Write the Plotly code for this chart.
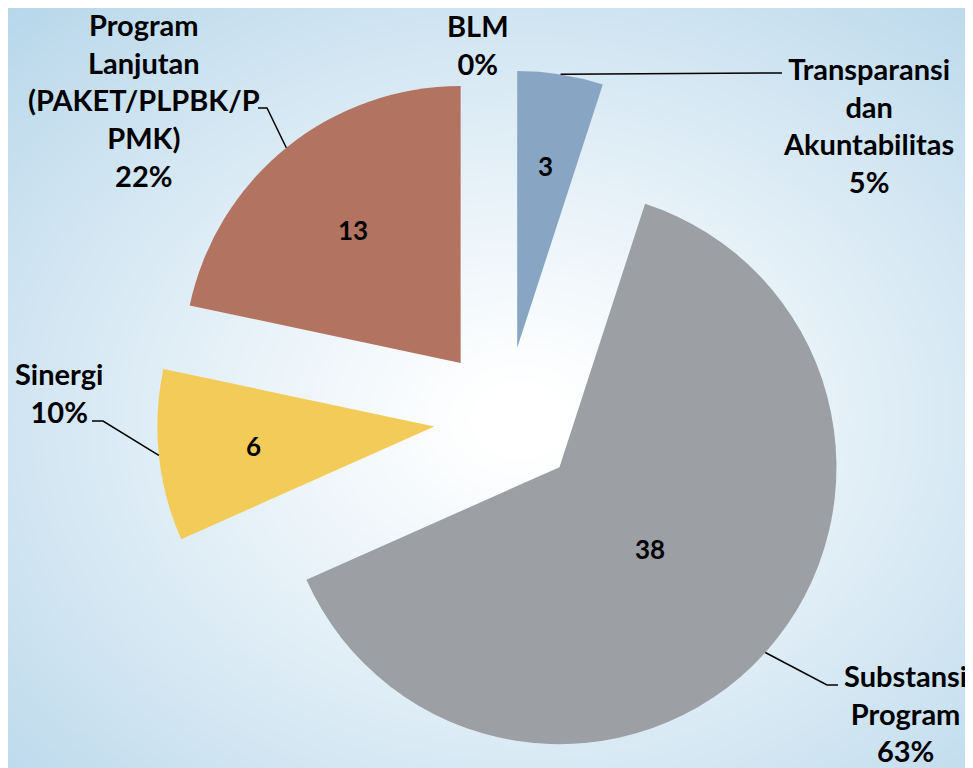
import math
import zlib
import struct
import base64
import numpy as np
import plotly.graph_objects as go

# ---------------- data ----------------
categories = ["BLM", "Transparansi dan Akuntabilitas", "Substansi Program",
              "Sinergi", "Program Lanjutan (PAKET/PLPBK/PPMK)"]
values = [0, 3, 38, 6, 13]
label_texts = ["BLM", "Transparansi<br>dan<br>Akuntabilitas", "Substansi<br>Program",
               "Sinergi", "Program<br>Lanjutan<br>(PAKET/PLPBK/P<br>PMK)"]

# ---------------- style / layout ----------------
slice_colors = ["#4F81BD", "#88A6C4", "#9C9FA4", "#F3CB58", "#B27460"]
OFF = 8                     # page body margin
W, H = 965, 760
PULL = 0.26
DOM_X = [0.032, 1.0]
DOM_Y = [0.0, 698 / 760]
FONT = "Lato"

# label block centres and leader-line elbows (screen pixels)
label_pos = [(478, 44), (868, 125), (905, 713), (59, 392), (144, 100)]
leader_pts = [None,
              [(775, 73), (782, 73)],
              [(827, 685), (838, 685)],
              [(103, 421), (92, 421)],
              [(267, 108), (258, 108)]]

# geometry as computed by plotly.js for the pie (screen pixels)
box_w = W * (DOM_X[1] - DOM_X[0])
box_h = H * (DOM_Y[1] - DOM_Y[0])
R = min(box_w, box_h) / 2 / (1 + PULL)
CX = OFF + W * (DOM_X[0] + DOM_X[1]) / 2
CY = OFF + H * (1 - DOM_Y[0]) - box_h / 2


def px2paper(x, y):
    return (x - OFF) / W, 1 - (y - OFF) / H


total = sum(values)
annotations = []
shapes = []
cum = 0.0
for i, v in enumerate(values):
    a0 = cum / total * 2 * math.pi
    cum += v
    a1 = cum / total * 2 * math.pi
    mid = (a0 + a1) / 2
    sx, sy = math.sin(mid), -math.cos(mid)
    apx, apy = CX + PULL * R * sx, CY + PULL * R * sy
    pct = round(v / total * 100)
    lx, ly = px2paper(*label_pos[i])
    annotations.append(dict(
        x=lx, y=ly, xref="paper", yref="paper", showarrow=False,
        text=f"{label_texts[i]}<br>{pct}%", align="center",
        xanchor="center", yanchor="middle",
        font=dict(family=FONT, size=29, color="#000000", weight="bold")))
    if v > 0:
        half = (a1 - a0) / 2
        f = max(2 * math.sin(half) / (3 * half), 0.44)
        tx, ty = px2paper(apx + f * R * sx, apy + f * R * sy)
        annotations.append(dict(
            x=tx, y=ty, xref="paper", yref="paper", showarrow=False,
            text=str(v), xanchor="center", yanchor="middle",
            font=dict(family=FONT, size=26, color="#000000", weight="bold")))
    if leader_pts[i] is not None:
        ax, ay = px2paper(apx + R * sx, apy + R * sy)
        pts = [(ax, ay)] + [px2paper(*p) for p in leader_pts[i]]
        path = "M " + " L ".join(f"{x:.5f},{y:.5f}" for x, y in pts)
        shapes.append(dict(type="path", xref="paper", yref="paper", path=path,
                           line=dict(color="#000000", width=1.5), layer="above"))

# ---------------- radial gradient background ----------------
gw, gh = 483, 380
yy, xx = np.mgrid[0:gh, 0:gw]
pxs = OFF + (xx + 0.5) * W / gw
pys = OFF + (yy + 0.5) * H / gh
d = np.sqrt(((pxs - 520) / (973 / 2)) ** 2 + ((pys - 420) / (768 / 2)) ** 2)
t = np.clip((d - 0.08) / 1.45, 0, 1) ** 1.1
edge = np.array([182, 214, 234], dtype=float)
centre = np.array([255, 255, 255], dtype=float)
img = (centre + (edge - centre) * t[..., None]).round().astype(np.uint8)


def png_bytes(arr):
    h, w, _ = arr.shape
    raw = b"".join(b"\x00" + arr[r].tobytes() for r in range(h))

    def chunk(tag, data):
        c = struct.pack(">I", len(data)) + tag + data
        return c + struct.pack(">I", zlib.crc32(tag + data) & 0xFFFFFFFF)
    return (b"\x89PNG\r\n\x1a\n"
            + chunk(b"IHDR", struct.pack(">IIBBBBB", w, h, 8, 2, 0, 0, 0))
            + chunk(b"IDAT", zlib.compress(raw, 9))
            + chunk(b"IEND", b""))


bg_src = "data:image/png;base64," + base64.b64encode(png_bytes(img)).decode()

# ---------------- figure ----------------
fig = go.Figure(go.Pie(
    labels=categories, values=values, sort=False, direction="clockwise",
    rotation=0, pull=[PULL] * len(values),
    marker=dict(colors=slice_colors, line=dict(width=0)),
    textinfo="none", hoverinfo="label+value+percent",
    domain=dict(x=DOM_X, y=DOM_Y), showlegend=False))

fig.update_layout(
    width=W, height=H,
    margin=dict(l=0, r=0, t=0, b=0),
    paper_bgcolor="#D6E7F1", plot_bgcolor="rgba(0,0,0,0)",
    images=[dict(source=bg_src, xref="paper", yref="paper", x=0, y=1,
                 sizex=1, sizey=1, sizing="stretch", xanchor="left",
                 yanchor="top", layer="below")],
    annotations=annotations, shapes=shapes)

fig.write_html("out.html")
